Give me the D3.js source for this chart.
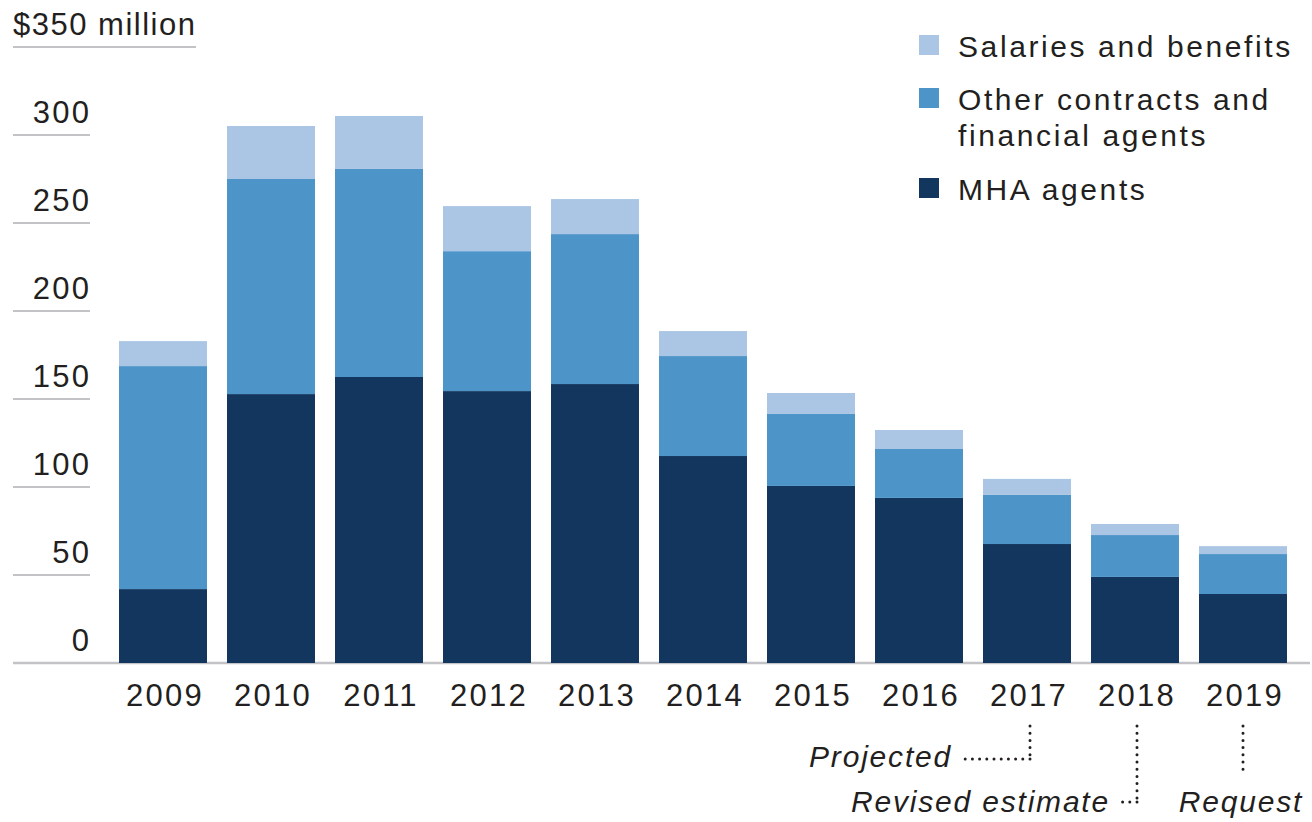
<!DOCTYPE html>
<html>
<head>
<meta charset="utf-8">
<script src="https://cdn.jsdelivr.net/npm/d3@7"></script>
<style>
  body { margin: 0; background: #fff; }
  svg { display: block; font-family: 'Liberation Sans', Arial, sans-serif; }
</style>
</head>
<body>
<div id="chart"></div>
<script>
const years = ['2009', '2010', '2011', '2012', '2013', '2014', '2015', '2016', '2017', '2018', '2019'];
const mhaAgents = [42.0, 152.8, 162.5, 154.5, 158.5, 117.6, 100.6, 93.8, 67.6, 48.9, 39.2];
const otherContracts = [126.7, 122.2, 118.2, 79.5, 85.2, 56.8, 40.9, 27.8, 27.9, 23.8, 22.7];
const salaries = [14.2, 30.1, 30.1, 25.6, 19.9, 14.2, 11.9, 10.8, 9.1, 6.3, 4.5];
const seriesNames = ['MHA agents', 'Other contracts and financial agents', 'Salaries and benefits'];
const yTicks = [0, 50, 100, 150, 200, 250, 300];
const yTopLabel = '$350 million';
const notes = ['Projected', 'Revised estimate', 'Request'];

document.addEventListener('DOMContentLoaded', () => {
  const width = 1312;
  const height = 822;
  const colors = ['#13365f', '#4d94c9', '#abc6e4'];
  const grid = '#c3c3c7';
  const ink = '#231f20';

  const svg = d3.select('#chart')
                .append('svg')
                .attr('width', width)
                .attr('height', height);

  const xScale = d3.scaleBand()
                   .domain(years)
                   .range([109, 1297])
                   .paddingInner(20 / 108)
                   .paddingOuter(10 / 108);

  const yScale = d3.scaleLinear()
                   .domain([0, 350])
                   .range([663, 47]);

  // grid ticks on the left
  svg.selectAll('.tick-line')
     .data(yTicks.filter(d => d > 0))
     .enter()
     .append('line')
     .attr('x1', 13)
     .attr('x2', 90)
     .attr('y1', d => yScale(d))
     .attr('y2', d => yScale(d))
     .attr('stroke', grid)
     .attr('stroke-width', 2);

  svg.selectAll('.tick-label')
     .data(yTicks)
     .enter()
     .append('text')
     .attr('x', 89 + 2.3)
     .attr('y', d => yScale(d) - 12)
     .attr('text-anchor', 'end')
     .style('font-size', '31px')
     .style('letter-spacing', '2.3px')
     .attr('fill', ink)
     .text(d => d);

  svg.append('line')
     .attr('x1', 13)
     .attr('x2', 196)
     .attr('y1', yScale(350))
     .attr('y2', yScale(350))
     .attr('stroke', grid)
     .attr('stroke-width', 2);

  svg.append('text')
     .attr('x', 13)
     .attr('y', yScale(350) - 12)
     .style('font-size', '31px')
     .style('letter-spacing', '1.5px')
     .attr('fill', ink)
     .text(yTopLabel);

  // baseline
  svg.append('line')
     .attr('x1', 13)
     .attr('x2', 1310)
     .attr('y1', yScale(0))
     .attr('y2', yScale(0))
     .attr('stroke', grid)
     .attr('stroke-width', 2.5);

  const rows = years.map((y, i) => ({
    year: y,
    mha: mhaAgents[i],
    other: otherContracts[i],
    sal: salaries[i]
  }));
  const stack = d3.stack().keys(['mha', 'other', 'sal']);
  const layers = stack(rows);

  svg.selectAll('.layer')
     .data(layers)
     .enter()
     .append('g')
     .attr('fill', (d, i) => colors[i])
     .selectAll('rect')
     .data(d => d)
     .enter()
     .append('rect')
     .attr('x', d => xScale(d.data.year))
     .attr('y', d => yScale(d[1]))
     .attr('width', xScale.bandwidth())
     .attr('height', d => yScale(d[0]) - yScale(d[1]));

  const cx = y => xScale(y) + xScale.bandwidth() / 2;

  // year labels
  svg.selectAll('.year')
     .data(years)
     .enter()
     .append('text')
     .attr('x', d => cx(d) + 2)
     .attr('y', 706)
     .attr('text-anchor', 'middle')
     .style('font-size', '31px')
     .style('letter-spacing', '2.2px')
     .attr('fill', ink)
     .text(d => d);

  // legend
  const legendItems = [
    { lines: [seriesNames[2]], color: colors[2], y: 35 },
    { lines: ['Other contracts and', 'financial agents'], color: colors[1], y: 88 },
    { lines: [seriesNames[0]], color: colors[0], y: 178 }
  ];
  const legend = svg.append('g');
  legendItems.forEach(item => {
    legend.append('rect')
          .attr('x', 919)
          .attr('y', item.y)
          .attr('width', 20)
          .attr('height', 20)
          .attr('fill', item.color);
    item.lines.forEach((l, j) => {
      legend.append('text')
            .attr('x', 958)
            .attr('y', item.y + 22 + j * 36)
            .style('font-size', '30px')
            .style('letter-spacing', '2.6px')
            .attr('fill', ink)
            .text(l);
    });
  });

  // dotted annotations
  const dotted = (x1, y1, x2, y2) => {
    svg.append('line')
       .attr('x1', x1).attr('y1', y1)
       .attr('x2', x2).attr('y2', y2)
       .attr('stroke', ink)
       .attr('stroke-width', 3)
       .attr('stroke-linecap', 'round')
       .attr('stroke-dasharray', '0 7.2');
  };
  const note = (x, y, anchor, t) => {
    svg.append('text')
       .attr('x', x)
       .attr('y', y)
       .attr('text-anchor', anchor)
       .style('font-size', '30px')
       .style('font-style', 'italic')
       .style('letter-spacing', '1.8px')
       .attr('fill', ink)
       .text(t);
  };

  const x17 = cx('2017') + 3;
  dotted(x17, 726, x17, 759);
  dotted(x17, 759, 964, 759);
  note(952, 767, 'end', notes[0]);

  const x18 = cx('2018') + 2;
  dotted(x18, 726, x18, 802);
  dotted(x18, 802, 1118, 802);
  note(1110, 812, 'end', notes[1]);

  const x19 = cx('2019');
  dotted(x19, 726, x19, 774);
  note(x19 - 2, 812, 'middle', notes[2]);
});
</script>
</body>
</html>
